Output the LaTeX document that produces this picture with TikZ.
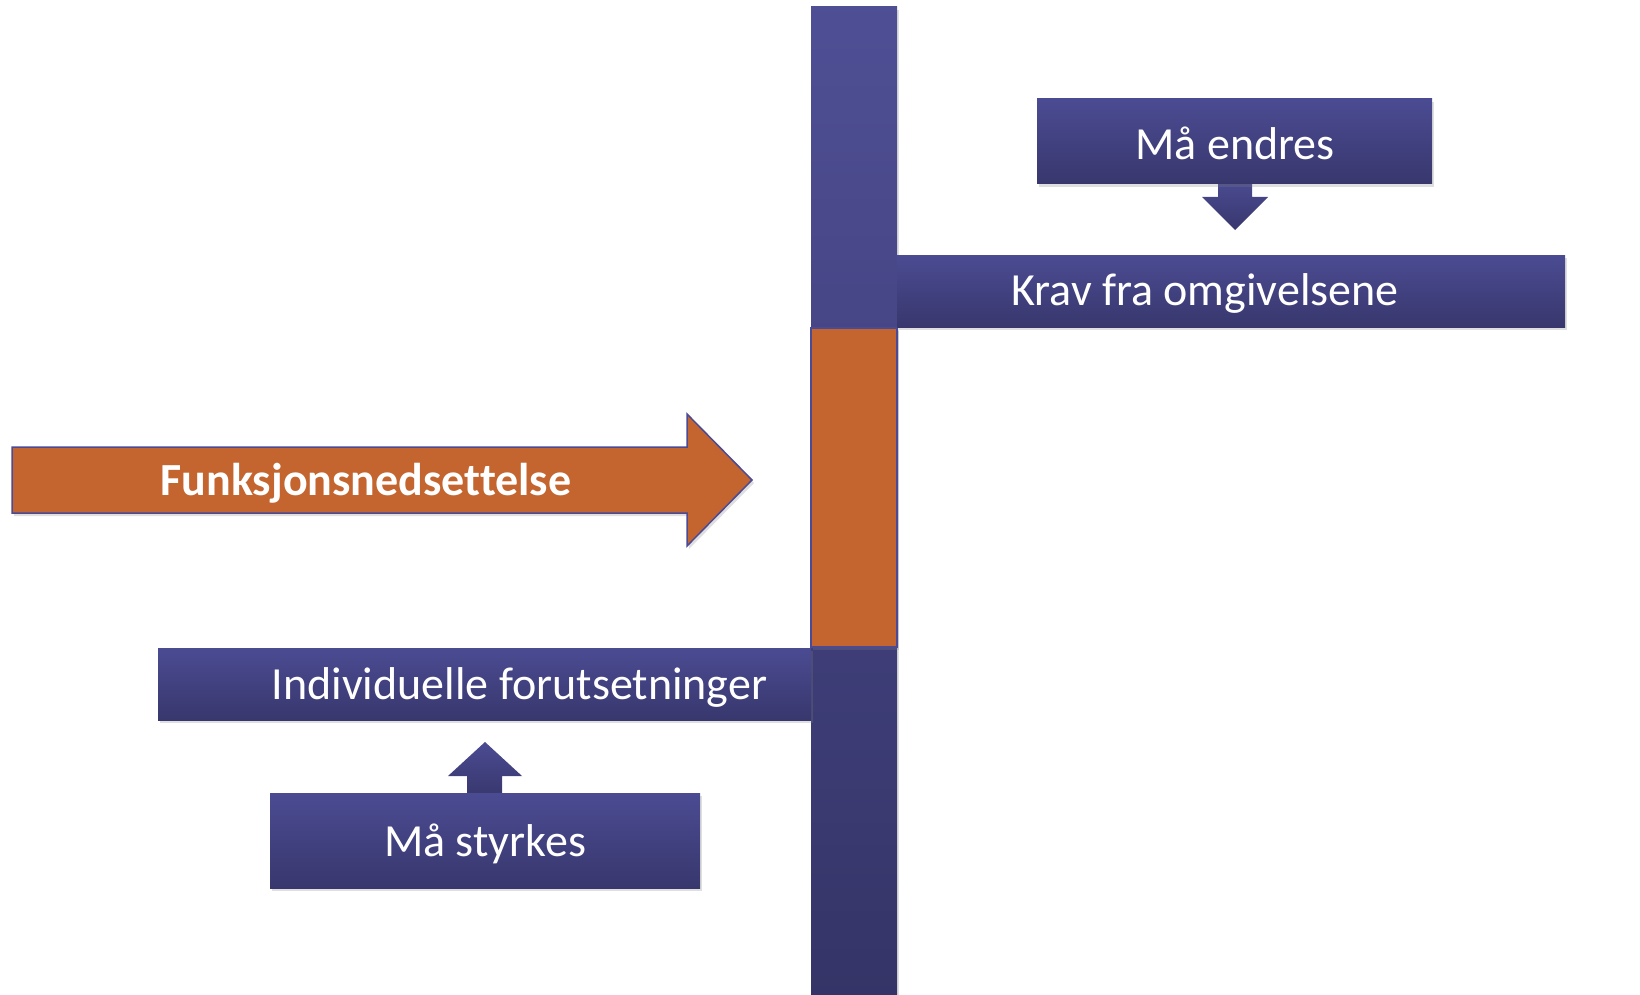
\documentclass[tikz,border=0pt]{standalone}
\usepackage{fontspec}
\setmainfont{Carlito}[Ligatures=NoCommon]
\usetikzlibrary{shadows}
\definecolor{bluetop}{HTML}{4B4B93}
\definecolor{bluebot}{HTML}{38376D}
\definecolor{orng}{HTML}{C4652F}
\definecolor{edgeblue}{HTML}{4A4A95}
\begin{document}
\begin{tikzpicture}[x=1pt,y=-1pt,
  bluebox/.style={rectangle, inner sep=0pt, top color=bluetop, bottom color=bluebot,
    drop shadow={opacity=0.25,shadow xshift=2pt,shadow yshift=-3pt}},
  bluearrow/.style={top color=bluetop, bottom color=bluebot},
  lbl/.style={text=white, inner sep=0pt, font=\fontsize{46}{54}\selectfont},
  blbl/.style={text=white, inner sep=0pt, font=\fontsize{46}{54}\selectfont\bfseries}]
\useasboundingbox (0,0) rectangle (1640,995);
% vertical bar
\node[bluebox, minimum width=86pt, minimum height=988pt, top color=bluetop!98!white, bottom color=bluebot!95!black] (bar) at (854,501) {};
% orange segment
\node[rectangle, inner sep=0pt, fill=orng, draw=edgeblue, line width=1.2pt, minimum width=86pt, minimum height=319pt,
  drop shadow={opacity=0.25,shadow xshift=2pt,shadow yshift=-3pt}] (mid) at (854,487.5) {};
% top right
\path[bluearrow] (1218,180) -- (1252,180) -- (1252,197) -- (1268,197) -- (1235,230) -- (1202,197) -- (1218,197) -- cycle;
\node[bluebox, minimum width=395pt, minimum height=85pt] (endres) at (1234.5,141.5) {};
\node[lbl] (tendres) at (1235,143) {Må endres};
\node[bluebox, minimum width=668pt, minimum height=72pt] (krav) at (1231,291) {};
\node[lbl] (tkrav) at (1205,293) {Krav fra omgivelsene};
% orange arrow
\path[fill=orng, draw=edgeblue, line width=1.5pt, drop shadow={opacity=0.25,shadow xshift=2pt,shadow yshift=-3pt}]
  (12,447) -- (687,447) -- (687,414) -- (752,480) -- (687,546) -- (687,513) -- (12,513) -- cycle;
\node[blbl] (tfunk) at (366,483) {Funksjonsnedsettelse};
% bottom left
\node[bluebox, minimum width=653pt, minimum height=72pt] (indiv) at (484.5,684) {};
\node[lbl] (tindiv) at (519.5,687) {Individuelle forutsetninger};
\path[bluearrow] (467,797) -- (467,776) -- (448,776) -- (485,742) -- (522,776) -- (502,776) -- (502,797) -- cycle;
\node[bluebox, minimum width=430pt, minimum height=95pt] (styrkes) at (485,840.5) {};
\node[lbl] (tstyrkes) at (485,844) {Må styrkes};
\end{tikzpicture}
\end{document}
